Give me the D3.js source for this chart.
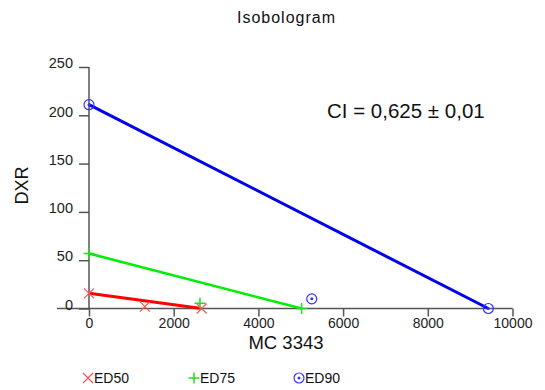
<!DOCTYPE html>
<html>
<head>
<meta charset="utf-8">
<script src="https://cdn.jsdelivr.net/npm/d3@7"></script>
<style>
  html, body { margin: 0; padding: 0; background: #fff; }
  svg { display: block; }
  text { font-family: "Liberation Sans", Arial, sans-serif; }
</style>
</head>
<body>
<svg id="chart" width="545" height="390"></svg>
<script>
// Isobole end points: [MC 3343 dose, DXR dose]
const ed50Line = [[0, 15.7], [2660, 0]];
const ed75Line = [[0, 57], [5020, 0]];
const ed90Line = [[0, 211], [9430, 0]];

// Combination / single-agent points
const ed50Points = [[0, 15.7], [1320, 2], [2660, 0]];
const ed75Points = [[0, 57], [2620, 5.4], [5020, 0]];
const ed90Points = [[0, 211], [5260, 10], [9430, 0]];

const xTicks = [0, 2000, 4000, 6000, 8000, 10000];
const yTicks = [0, 50, 100, 150, 200, 250];

const titleText = "Isobologram";
const xLabel = "MC 3343";
const yLabel = "DXR";
const ciText = "CI = 0,625 \u00B1 0,01";
const legendLabels = ["ED50", "ED75", "ED90"];

const colors = { ed50: "#ff0000", ed75: "#00ee00", ed90: "#0000ee" };
const markerColors = { ed50: "#ff5555", ed75: "#22dd22", ed90: "#3333ff" };

const svg = d3.select("#chart");
const x = d3.scaleLinear().domain([0, 10000]).range([89, 512.5]);
const y = d3.scaleLinear().domain([0, 250]).range([308.5, 67]);

// Title
svg.append("text").attr("x", 286.5).attr("y", 23).attr("text-anchor", "middle")
  .attr("font-size", 16).attr("letter-spacing", 1).attr("fill", "#111").text(titleText);

// Axis lines
const axisColor = "#555";
svg.append("line").attr("x1", 57).attr("x2", x(10000)).attr("y1", y(0)).attr("y2", y(0))
  .attr("stroke", axisColor).attr("stroke-width", 1.5);
svg.append("line").attr("x1", x(0)).attr("x2", x(0)).attr("y1", y(250)).attr("y2", y(0))
  .attr("stroke", axisColor).attr("stroke-width", 1.5);

// X axis ticks
const xAxis = d3.axisBottom(x).tickValues(xTicks).tickSize(8).tickPadding(2).tickFormat(d3.format("d"));
const gx = svg.append("g").attr("transform", `translate(0,${y(0)})`).call(xAxis);
gx.select(".domain").remove();
gx.selectAll(".tick line").attr("stroke", axisColor).attr("stroke-width", 1.5);
gx.selectAll(".tick text").attr("font-size", 14).attr("fill", "#222")
  .attr("font-family", "Liberation Sans, Arial, sans-serif");

// Y axis ticks
const yAxis = d3.axisLeft(y).tickValues(yTicks).tickSize(10).tickPadding(6).tickFormat(d3.format("d"));
const gy = svg.append("g").attr("transform", `translate(${x(0)},0)`).call(yAxis);
gy.select(".domain").remove();
gy.selectAll(".tick line").attr("stroke", axisColor).attr("stroke-width", 1.5);
gy.selectAll(".tick text").attr("font-size", 14.5).attr("fill", "#222")
  .attr("font-family", "Liberation Sans, Arial, sans-serif")
  .attr("dy", "0.05em");

// Axis titles
svg.append("text").attr("x", 286).attr("y", 349).attr("text-anchor", "middle")
  .attr("font-size", 18.5).attr("fill", "#111").text(xLabel);
svg.append("text").attr("transform", "translate(28,185.5) rotate(-90)").attr("text-anchor", "middle")
  .attr("font-size", 18).attr("fill", "#111").text(yLabel);

// Combination index annotation
svg.append("text").attr("x", 327).attr("y", 118)
  .attr("font-size", 20.5).attr("fill", "#111").text(ciText);

// Isobole lines
const line = d3.line().x(d => x(d[0])).y(d => y(d[1]));
svg.append("path").datum(ed90Line).attr("d", line).attr("fill", "none")
  .attr("stroke", colors.ed90).attr("stroke-width", 3);
svg.append("path").datum(ed75Line).attr("d", line).attr("fill", "none")
  .attr("stroke", colors.ed75).attr("stroke-width", 2.5);
svg.append("path").datum(ed50Line).attr("d", line).attr("fill", "none")
  .attr("stroke", colors.ed50).attr("stroke-width", 3);

// Marker drawing helpers
function drawCross(g, cx, cy, s, color) {
  g.append("path").attr("d", `M${cx - s},${cy - s}L${cx + s},${cy + s}M${cx - s},${cy + s}L${cx + s},${cy - s}`)
    .attr("stroke", color).attr("stroke-width", 1.2).attr("fill", "none");
}
function drawPlus(g, cx, cy, s, color) {
  g.append("path").attr("d", `M${cx - s},${cy}L${cx + s},${cy}M${cx},${cy - s}L${cx},${cy + s}`)
    .attr("stroke", color).attr("stroke-width", 1.5).attr("fill", "none");
}
function drawCircleDot(g, cx, cy, r, color) {
  g.append("circle").attr("cx", cx).attr("cy", cy).attr("r", r)
    .attr("stroke", color).attr("stroke-width", 1.2).attr("fill", "none");
  g.append("circle").attr("cx", cx).attr("cy", cy).attr("r", 1.5).attr("fill", color);
}

const marks = svg.append("g");
ed50Points.forEach(d => drawCross(marks, x(d[0]), y(d[1]), 5, markerColors.ed50));
ed75Points.forEach(d => drawPlus(marks, x(d[0]), y(d[1]), 5.5, markerColors.ed75));
ed90Points.forEach(d => drawCircleDot(marks, x(d[0]), y(d[1]), 5, markerColors.ed90));

// Legend
const legendY = 378;
const legendX = [88, 194, 299];
const legend = svg.append("g");
drawCross(legend, legendX[0], legendY, 5, markerColors.ed50);
drawPlus(legend, legendX[1], legendY, 5.5, markerColors.ed75);
drawCircleDot(legend, legendX[2], legendY, 5, markerColors.ed90);
legendLabels.forEach((t, i) => {
  legend.append("text").attr("x", legendX[i] + 6).attr("y", 383)
    .attr("font-size", 14).attr("fill", "#111").text(t);
});
</script>
</body>
</html>
